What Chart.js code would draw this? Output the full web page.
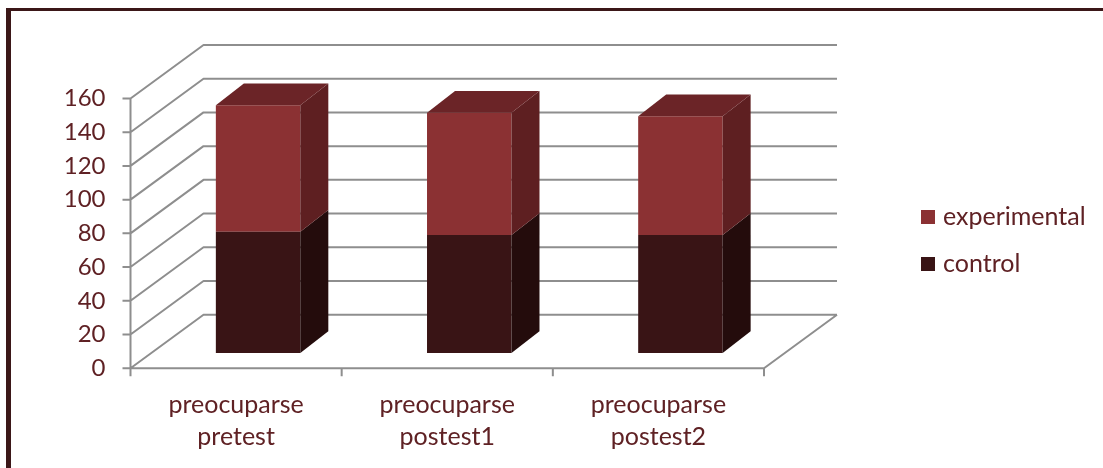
<!DOCTYPE html>
<html>
<head>
<meta charset="utf-8">
<script src="https://cdn.jsdelivr.net/npm/chart.js@4/dist/chart.umd.min.js"></script>
<style>
  body { margin: 0; background: #fff; overflow: hidden; }
  canvas { position: absolute; left: 0; top: 0; }
  /* moldura escura em cima e na esquerda */
  #moldura { position: absolute; left: 6px; top: 8px; width: 1120px; height: 480px;
    border-top: 3px solid #3b1718; border-left: 5px solid #3b1718; pointer-events: none; }
</style>
</head>
<body>
<canvas id="grafico" width="1103" height="468"></canvas>
<div id="moldura"></div>
<script>
// dados
const categorias = [['preocuparse', 'pretest'], ['preocuparse', 'postest1'], ['preocuparse', 'postest2']];
const control = [72, 70, 70];
const experimental = [75, 72.5, 70.5];
const nomesSeries = ['control', 'experimental'];
const yMin = 0, yMax = 160, yPasso = 20;

const corTexto = '#5f2124';
const corGrade = '#8e8e8e';
const coresFrente = ['#391415', '#8b3133'];
const coresLado = ['#240c0c', '#5e1f21'];
const corTopo = '#6b2427';

// deslocamentos do efeito 3d (plano das barras -> plano da frente, fundo e profundidade da barra)
const DX_FRENTE = 22, DY_FRENTE = 15.2;
const DX_FUNDO = 73, DY_FUNDO = 53.5;
const DX_BARRA = 28, DY_BARRA = 21.7;

// desenha as paredes, o chao e as linhas de grade antes das barras
const paredes = {
  id: 'paredes',
  beforeDatasetsDraw(chart) {
    const { ctx, scales: { x, y } } = chart;
    const esq = x.getPixelForValue(-0.5) - DX_FRENTE;
    const dir = x.getPixelForValue(categorias.length - 0.5) - DX_FRENTE;
    const y0 = y.getPixelForValue(yMin) + DY_FRENTE;
    const yTopo = y.getPixelForValue(yMax) + DY_FRENTE;
    ctx.save();
    ctx.strokeStyle = corGrade;
    ctx.lineWidth = 2;
    ctx.lineJoin = 'bevel';
    ctx.beginPath();
    y.ticks.forEach(t => {
      const fy = y.getPixelForValue(t.value) + DY_FRENTE;
      ctx.moveTo(esq - 8, fy);
      ctx.lineTo(esq, fy);
      ctx.lineTo(esq + DX_FUNDO, fy - DY_FUNDO);
      ctx.lineTo(dir + DX_FUNDO, fy - DY_FUNDO);
    });
    // eixo vertical da frente
    ctx.moveTo(esq, yTopo);
    ctx.lineTo(esq, y0 + 8);
    // borda do chao
    ctx.moveTo(esq, y0);
    ctx.lineTo(dir, y0);
    ctx.lineTo(dir + DX_FUNDO, y0 - DY_FUNDO);
    // tracinhos do eixo x
    for (let i = 1; i <= categorias.length; i++) {
      const px = x.getPixelForValue(i - 0.5) - DX_FRENTE;
      ctx.moveTo(px, y0);
      ctx.lineTo(px, y0 + 8);
    }
    ctx.stroke();
    ctx.restore();
  },
  // lateral e topo de cada barra
  afterDatasetsDraw(chart) {
    const { ctx } = chart;
    const ultimo = chart.data.datasets.length - 1;
    ctx.save();
    chart.data.datasets.forEach((ds, i) => {
      chart.getDatasetMeta(i).data.forEach(barra => {
        const { x, y, base, width } = barra.getProps(['x', 'y', 'base', 'width'], true);
        const l = x - width / 2, r = x + width / 2;
        ctx.fillStyle = coresLado[i];
        ctx.beginPath();
        ctx.moveTo(r, y);
        ctx.lineTo(r + DX_BARRA, y - DY_BARRA);
        ctx.lineTo(r + DX_BARRA, base - DY_BARRA);
        ctx.lineTo(r, base);
        ctx.closePath();
        ctx.fill();
        if (i === ultimo) {
          ctx.fillStyle = corTopo;
          ctx.beginPath();
          ctx.moveTo(l, y);
          ctx.lineTo(l + DX_BARRA, y - DY_BARRA);
          ctx.lineTo(r + DX_BARRA, y - DY_BARRA);
          ctx.lineTo(r, y);
          ctx.closePath();
          ctx.fill();
        }
      });
    });
    ctx.restore();
  }
};

// legenda do lado direito, experimental em cima
const legenda = {
  id: 'legenda',
  afterDraw(chart) {
    const { ctx } = chart;
    const itens = [[nomesSeries[1], coresFrente[1], 217], [nomesSeries[0], coresFrente[0], 264]];
    ctx.save();
    ctx.font = '25px Lato';
    ctx.textBaseline = 'middle';
    itens.forEach(([nome, cor, cy]) => {
      ctx.fillStyle = cor;
      ctx.fillRect(921, cy - 7, 14, 14);
      ctx.fillStyle = corTexto;
      ctx.fillText(nome, 943, cy);
    });
    ctx.restore();
  }
};

Chart.defaults.font.family = 'Lato';

new Chart(document.getElementById('grafico'), {
  type: 'bar',
  data: {
    labels: categorias,
    datasets: [
      { label: nomesSeries[0], data: control, backgroundColor: coresFrente[0] },
      { label: nomesSeries[1], data: experimental, backgroundColor: coresFrente[1] }
    ]
  },
  options: {
    responsive: false,
    animation: false,
    layout: { padding: { left: 0, top: 83.3, right: 317, bottom: 0 } },
    datasets: { bar: { categoryPercentage: 1, barPercentage: 0.4 } },
    plugins: { legend: { display: false }, tooltip: { enabled: false } },
    scales: {
      x: {
        stacked: true,
        grid: { display: false, drawTicks: false },
        border: { display: false },
        ticks: { color: corTexto, font: { size: 25, lineHeight: 1.28 }, labelOffset: -DX_FRENTE, padding: 36, maxRotation: 0 },
        afterFit: s => { s.height = 115; }
      },
      y: {
        stacked: true,
        min: yMin,
        max: yMax,
        grid: { display: false, drawTicks: false },
        border: { display: false },
        ticks: { stepSize: yPasso, color: corTexto, font: { size: 24 }, labelOffset: DY_FRENTE, padding: 47 },
        afterFit: s => { s.width = 152.5; }
      }
    }
  },
  plugins: [paredes, legenda]
});
</script>
</body>
</html>
